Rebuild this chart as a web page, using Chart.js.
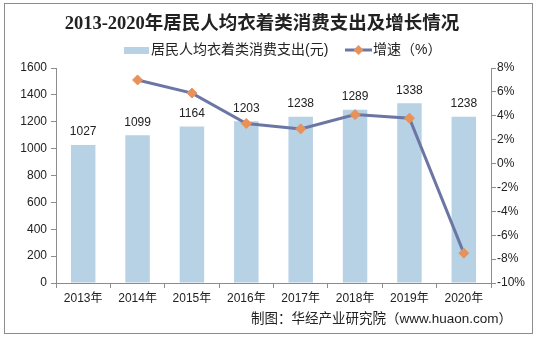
<!DOCTYPE html>
<html><head><meta charset="utf-8">
<script src="https://cdn.jsdelivr.net/npm/chart.js@4/dist/chart.umd.min.js"></script>
<style>html,body{margin:0;padding:0;background:#fff}#wrap{position:relative;width:537px;height:338px}</style>
</head><body><div id="wrap"><canvas id="c" width="537" height="338"></canvas></div>
<script>
const categories = ['2013年','2014年','2015年','2016年','2017年','2018年','2019年','2020年'];
const spending = [1027,1099,1164,1203,1238,1289,1338,1238];
const growth = [null,7.0,5.9,3.35,2.9,4.1,3.8,-7.5];
const leftTicks = [0,200,400,600,800,1000,1200,1400,1600];
const rightTicks = [-10,-8,-6,-4,-2,0,2,4,6,8];
const titleText = '2013-2020年居民人均衣着类消费支出及增长情况';
const legendBar = '居民人均衣着类消费支出(元)';
const legendLine = '增速（%）';
const sourceText = '制图：华经产业研究院（www.huaon.com）';

const barColor = '#b7d1e5';
const lineColor = '#6b76a4';
const pointColor = '#e8925a';
const FONT = '"Liberation Sans", Arial, "Noto Sans CJK SC", sans-serif';

const deco = {
  id:'deco',
  afterDraw(chart){
    const ctx = chart.ctx;
    ctx.save();
    ctx.strokeStyle = '#8c8c8c'; ctx.lineWidth = 1;
    ctx.strokeRect(4.5,3.5,528,330);
    ctx.fillStyle = '#222';
    ctx.font = 'bold 18.5px "Liberation Serif", "Noto Sans CJK SC", serif';
    ctx.textAlign = 'center'; ctx.textBaseline = 'middle';
    ctx.fillText(titleText, 262, 24);
    // legend
    ctx.font = '14px ' + FONT;
    ctx.textAlign = 'left';
    ctx.fillStyle = barColor;
    ctx.fillRect(124,47,25,7);
    ctx.fillStyle = '#222';
    ctx.fillText(legendBar, 151, 50);
    ctx.strokeStyle = lineColor; ctx.lineWidth = 3;
    ctx.beginPath(); ctx.moveTo(345,50); ctx.lineTo(372,50); ctx.stroke();
    ctx.fillStyle = pointColor;
    ctx.beginPath(); ctx.moveTo(358.5,45); ctx.lineTo(363.5,50); ctx.lineTo(358.5,55); ctx.lineTo(353.5,50); ctx.closePath(); ctx.fill();
    ctx.fillStyle = '#222';
    ctx.fillText(legendLine, 373, 50);
    // bar value labels
    ctx.font = '12px ' + FONT;
    ctx.textAlign = 'center'; ctx.textBaseline = 'bottom';
    const meta = chart.getDatasetMeta(1);
    meta.data.forEach((b,i)=>{ ctx.fillText(String(spending[i]), b.x, b.y - 7); });
    // source
    ctx.font = '13.5px ' + FONT;
    ctx.textAlign = 'right'; ctx.textBaseline = 'middle';
    ctx.fillText(sourceText, 512, 319);
    ctx.restore();
  }
};

new Chart(document.getElementById('c'), {
  data: {
    labels: categories,
    datasets: [
      { type:'line', label:legendLine, data:growth, yAxisID:'y1', borderColor:lineColor, borderWidth:3,
        pointStyle:'rectRot', pointRadius:5, pointBackgroundColor:pointColor, pointBorderColor:pointColor, pointBorderWidth:1, spanGaps:false, order:0 },
      { type:'bar', label:legendBar, data:spending, yAxisID:'y', backgroundColor:barColor, barPercentage:0.45, categoryPercentage:1.0, order:1 }
    ]
  },
  options: {
    responsive:false, animation:false,
    layout:{ padding:{ top:68, left:0, right:0, bottom:0 } },
    plugins:{ legend:{display:false}, tooltip:{enabled:false}, title:{display:false} },
    scales:{
      x:{ grid:{ offset:true, drawOnChartArea:false, drawTicks:true, tickLength:5, color:'#8c8c8c' },
          border:{ display:true, color:'#8c8c8c' },
          ticks:{ color:'#222', font:{ size:12, family:FONT }, padding:3, maxRotation:0 },
          afterFit(s){ s.height = 55; } },
      y:{ position:'left', min:0, max:1600, afterBuildTicks(s){ s.ticks = leftTicks.map(v=>({value:v})); },
          grid:{ drawOnChartArea:false, drawTicks:true, tickLength:5, color:'#8c8c8c' },
          border:{ display:true, color:'#8c8c8c' },
          ticks:{ color:'#222', font:{ size:12, family:FONT }, padding:4, callback:v=>String(v) },
          afterFit(s){ s.width = 56; } },
      y1:{ position:'right', min:-10, max:8, afterBuildTicks(s){ s.ticks = rightTicks.map(v=>({value:v})); },
          grid:{ drawOnChartArea:false, drawTicks:true, tickLength:5, color:'#8c8c8c' },
          border:{ display:true, color:'#8c8c8c' },
          ticks:{ color:'#222', font:{ size:12, family:FONT }, padding:1, callback:v=>v+'%' },
          afterFit(s){ s.width = 46; } }
    }
  },
  plugins:[deco]
});
</script></body></html>
